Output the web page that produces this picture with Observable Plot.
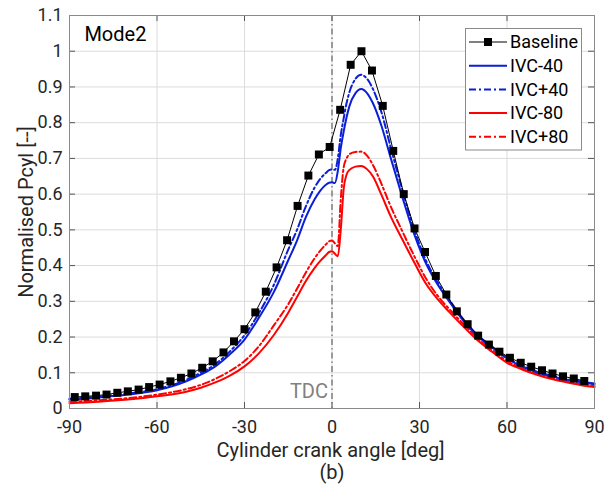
<!DOCTYPE html>
<html><head><meta charset="utf-8">
<script src="https://cdn.jsdelivr.net/npm/d3@7"></script>
<script src="https://cdn.jsdelivr.net/npm/@observablehq/plot@0.6"></script>
<style>body{margin:0;background:#fff;} svg{font-family:Roboto, "Liberation Sans", sans-serif;}</style>
</head><body><div id="chart"></div>
<script>
// ---- data ----
const seriesNames = ["Baseline", "IVC-40", "IVC+40", "IVC-80", "IVC+80"];
const xTicks = [-90, -60, -30, 0, 30, 60, 90];
const yTicks = [0, 0.1, 0.2, 0.3, 0.4, 0.5, 0.6, 0.7, 0.8, 0.9, 1, 1.1];

const baseAngle = [-88.2,-84.6,-80.9,-77.3,-73.6,-70.0,-66.3,-62.7,-59.1,-55.4,-51.8,-48.2,-44.5,-40.9,-37.2,-33.6,-30.0,-26.3,-22.7,-19.0,-15.4,-11.8,-8.1,-4.5,-0.8,2.8,6.4,10.1,13.7,17.4,21.0,24.6,28.3,31.9,35.6,39.2,42.8,46.5,50.1,53.8,57.4,61.0,64.7,68.3,72.0,75.6,79.2,82.9,86.5];
const baseValue = [0.032,0.034,0.036,0.039,0.044,0.048,0.053,0.060,0.067,0.076,0.086,0.098,0.114,0.132,0.157,0.188,0.222,0.269,0.327,0.395,0.471,0.567,0.652,0.711,0.732,0.836,0.962,1.0,0.946,0.847,0.721,0.600,0.504,0.438,0.371,0.319,0.272,0.236,0.204,0.179,0.159,0.142,0.128,0.117,0.107,0.098,0.090,0.084,0.077];

const curveAngle = [-90,-80,-70,-60,-50,-45,-40,-35,-30,-25,-20,-15,-12,-9,-6,-4,-2,-1,0,1,2,3,4,5,6,8,10,12,14,17,20,24,28,32,36,40,45,50,55,60,65,70,75,80,85,90];
const ivcMinus40 = [0.025,0.031,0.039,0.051,0.076,0.095,0.118,0.152,0.193,0.255,0.325,0.415,0.470,0.535,0.585,0.610,0.627,0.632,0.633,0.631,0.665,0.728,0.775,0.815,0.847,0.882,0.894,0.883,0.855,0.790,0.705,0.595,0.492,0.410,0.350,0.302,0.246,0.202,0.170,0.140,0.118,0.102,0.090,0.081,0.074,0.068];
const ivcPlus40 = [0.027,0.033,0.042,0.054,0.080,0.100,0.124,0.160,0.205,0.268,0.345,0.445,0.500,0.565,0.618,0.643,0.660,0.667,0.669,0.668,0.700,0.765,0.812,0.855,0.886,0.922,0.934,0.923,0.895,0.828,0.735,0.615,0.505,0.418,0.356,0.307,0.250,0.205,0.173,0.142,0.120,0.104,0.092,0.083,0.076,0.070];
const ivcMinus80 = [0.015,0.019,0.025,0.034,0.047,0.058,0.073,0.092,0.118,0.155,0.205,0.268,0.312,0.356,0.393,0.413,0.430,0.438,0.440,0.433,0.426,0.500,0.615,0.655,0.668,0.677,0.679,0.670,0.650,0.597,0.540,0.475,0.412,0.352,0.308,0.272,0.230,0.190,0.158,0.128,0.110,0.095,0.083,0.074,0.066,0.060];
const ivcPlus80 = [0.019,0.023,0.029,0.039,0.054,0.066,0.083,0.105,0.133,0.175,0.232,0.292,0.335,0.380,0.420,0.442,0.460,0.468,0.470,0.462,0.455,0.585,0.675,0.700,0.712,0.718,0.719,0.708,0.682,0.628,0.568,0.498,0.430,0.367,0.318,0.280,0.237,0.196,0.163,0.133,0.113,0.098,0.086,0.077,0.069,0.063];

// ---- styling ----
const BLUE = "#0a1fd6", RED = "#ff0000";
const DASHDOT = "7,3,2,3";
const styles = {
  "Baseline": {stroke: "#000", width: 1, dash: null},
  "IVC-40": {stroke: BLUE, width: 2, dash: null},
  "IVC+40": {stroke: BLUE, width: 2, dash: DASHDOT},
  "IVC-80": {stroke: RED, width: 2, dash: null},
  "IVC+80": {stroke: RED, width: 2, dash: DASHDOT}
};
const curveValues = {"IVC-40": ivcMinus40, "IVC+40": ivcPlus40, "IVC-80": ivcMinus80, "IVC+80": ivcPlus80};

const baseRows = baseAngle.map((a, i) => ({angle: a, value: baseValue[i]}));
const curveMarks = ["IVC+80", "IVC-80", "IVC+40", "IVC-40"].map(name => {
  const rows = curveAngle.map((a, i) => ({angle: a, value: curveValues[name][i]}));
  const s = styles[name];
  return Plot.line(rows, {x: "angle", y: "value", stroke: s.stroke, strokeWidth: s.width,
    strokeDasharray: s.dash || undefined, curve: "monotone-x"});
});

const TXT = "#262626";
const tickLenX = 6 / 2.917, tickLenY = 6 / 357;

const plot = Plot.plot({
  width: 606, height: 485,
  marginLeft: 69, marginRight: 12, marginTop: 15, marginBottom: 77,
  style: {fontFamily: 'Roboto, "Liberation Sans", sans-serif', fontSize: "18px", color: TXT, background: "#fff"},
  x: {domain: [-90, 90]},
  y: {domain: [0, 1.1]},
  marks: [
    Plot.gridX(xTicks, {stroke: "#dcdcdc", strokeOpacity: 1}),
    Plot.gridY(yTicks, {stroke: "#dcdcdc", strokeOpacity: 1}),
    Plot.axisX(xTicks, {tickSize: 0, tickPadding: 12, tickFormat: d => String(d), fontSize: 18, label: null, fill: TXT}),
    Plot.axisY(yTicks, {tickSize: 0, tickPadding: 7, tickFormat: d => String(+d.toFixed(1)), fontSize: 18, label: null, fill: TXT}),
    // inward ticks
    Plot.ruleX(xTicks, {y1: 0, y2: tickLenY, stroke: "#555"}),
    Plot.ruleX(xTicks, {y1: 1.1, y2: 1.1 - tickLenY, stroke: "#555"}),
    Plot.ruleY(yTicks, {x1: -90, x2: -90 + tickLenX, stroke: "#555"}),
    Plot.ruleY(yTicks, {x1: 90, x2: 90 - tickLenX, stroke: "#555"}),
    Plot.ruleX([0], {stroke: "#7f7f7f", strokeWidth: 1.5, strokeDasharray: "6,3,1.5,3"}),
    Plot.text(["TDC"], {x: 0, y: 0.046, text: d => d, textAnchor: "end", dx: -4, fill: "#808080", fontSize: 20, lineAnchor: "middle"}),
    Plot.text(["Mode2"], {x: -84.9, y: 1.047, text: d => d, textAnchor: "start", fill: "#000", fontSize: 20, lineAnchor: "middle"}),
    ...curveMarks,
    Plot.line(baseRows, {x: "angle", y: "value", stroke: "#000", strokeWidth: 1}),
    Plot.dot(baseRows, {x: "angle", y: "value", symbol: "square", r: 4.5, fill: "#000", stroke: "none"}),
    Plot.frame({stroke: "#8a8a8a"})
  ]
});

document.getElementById("chart").appendChild(plot);
const svg = d3.select(plot);

// axis labels
svg.append("text").attr("x", 330.5).attr("y", 457).attr("text-anchor", "middle")
  .attr("font-size", 20).attr("fill", TXT).text("Cylinder crank angle [deg]");
svg.append("text").attr("x", 332).attr("y", 479).attr("text-anchor", "middle")
  .attr("font-size", 20).attr("fill", TXT).text("(b)");
svg.append("text").attr("transform", "translate(33,212) rotate(-90)").attr("text-anchor", "middle")
  .attr("font-size", 20).attr("fill", TXT).text("Normalised Pcyl [--]");

// legend
const lg = svg.append("g").attr("text-anchor", "start");
lg.append("rect").attr("x", 465.5).attr("y", 28.5).attr("width", 116).attr("height", 121.5)
  .attr("fill", "#fff").attr("stroke", "#8a8a8a").attr("stroke-width", 1);
seriesNames.forEach((name, i) => {
  const y = 42 + i * 23.7;
  const s = styles[name];
  lg.append("line").attr("x1", 469).attr("x2", 507).attr("y1", y).attr("y2", y)
    .attr("stroke", s.stroke).attr("stroke-width", s.width)
    .attr("stroke-dasharray", s.dash || null);
  if (name === "Baseline") {
    lg.append("rect").attr("x", 488 - 4).attr("y", y - 4).attr("width", 8).attr("height", 8).attr("fill", "#000");
  }
  lg.append("text").attr("x", 510).attr("y", y).attr("dy", "0.35em").attr("font-size", 18)
    .attr("text-anchor", "start").attr("fill", "#000").text(name);
});
</script>
</body></html>
